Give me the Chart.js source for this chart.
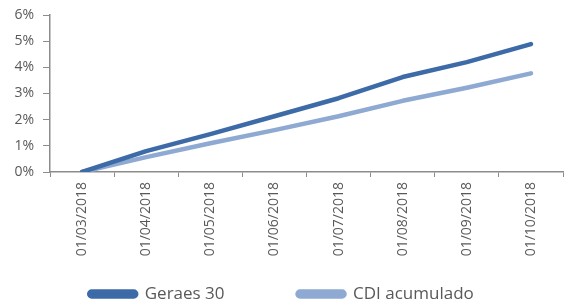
<!DOCTYPE html>
<html>
<head>
<meta charset="utf-8">
<script src="https://cdn.jsdelivr.net/npm/chart.js@4/dist/chart.umd.min.js"></script>
<style>
  html, body { margin: 0; padding: 0; background: #fff; }
  #wrap { width: 565px; height: 303px; }
</style>
</head>
<body>
<div id="wrap"><canvas id="chart"></canvas></div>
<script>
// Dates (category labels)
const dates = ['01/03/2018', '01/04/2018', '01/05/2018', '01/06/2018',
               '01/07/2018', '01/08/2018', '01/09/2018', '01/10/2018'];

// Accumulated returns, in %
const geraes30 = [0, 0.80, 1.45, 2.13, 2.82, 3.63, 4.20, 4.89];
const cdiAcumulado = [0, 0.57, 1.10, 1.60, 2.13, 2.72, 3.22, 3.77];

const textColor = '#595959';
const axisColor = '#8c8c8c';

const ctx = document.getElementById('chart').getContext('2d');

new Chart(ctx, {
  type: 'line',
  data: {
    labels: dates,
    datasets: [
      {
        label: 'Geraes 30',
        data: geraes30,
        borderColor: '#3d6ba7',
        backgroundColor: '#3d6ba7',
        borderWidth: 4.5,
        borderCapStyle: 'round',
        borderJoinStyle: 'round',
        pointRadius: 0,
        tension: 0
      },
      {
        label: 'CDI acumulado',
        data: cdiAcumulado,
        borderColor: '#8eaad2',
        backgroundColor: '#8eaad2',
        borderWidth: 4.5,
        borderCapStyle: 'round',
        borderJoinStyle: 'round',
        pointRadius: 0,
        tension: 0
      }
    ]
  },
  options: {
    responsive: true,
    maintainAspectRatio: false,
    animation: false,
    layout: {
      // negative bottom so the wide legend spacing doesn't eat the axis room
      padding: { top: 0, right: 2, left: 0, bottom: -9.5 }
    },
    plugins: {
      legend: {
        position: 'bottom',
        labels: {
          color: textColor,
          font: { family: 'Open Sans', size: 17 },
          boxWidth: 47,
          boxHeight: 5,
          useBorderRadius: true,
          borderRadius: 2.5,
          padding: 73
        }
      },
      tooltip: { enabled: false }
    },
    scales: {
      x: {
        type: 'category',
        offset: true,
        grid: {
          offset: true,
          drawOnChartArea: false,
          color: axisColor,
          tickLength: 5
        },
        border: { color: axisColor, width: 1.5 },
        ticks: {
          color: textColor,
          font: { family: 'Open Sans', size: 14 },
          minRotation: 90,
          maxRotation: 90,
          padding: 5
        },
        afterFit: (scale) => {
          scale.height = 40.5;
          // labels run down into the (empty) top part of the legend box,
          // so don't clip them to the axis box
          scale._computeLabelArea = () => null;
        }
      },
      y: {
        min: 0,
        max: 6,
        grid: {
          drawOnChartArea: false,
          color: axisColor,
          tickLength: 7
        },
        border: { color: axisColor, width: 1.5 },
        ticks: {
          stepSize: 1,
          autoSkip: false,
          color: textColor,
          font: { family: 'Open Sans', size: 14 },
          padding: 9,
          callback: (value) => value + '%'
        },
        afterFit: (scale) => {
          scale.width = 50;
          scale.paddingTop = 15;
        }
      }
    }
  }
});
</script>
</body>
</html>
